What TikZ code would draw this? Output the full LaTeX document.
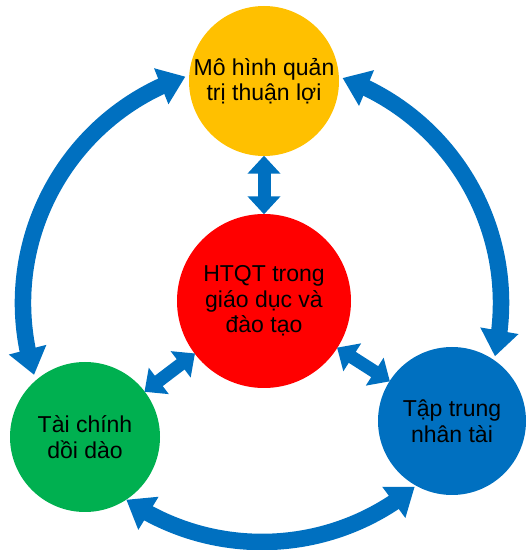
\documentclass[tikz,border=0pt]{standalone}
\usepackage{fontspec}
\setmainfont{Liberation Sans}
\usetikzlibrary{arrows.meta,bending}
\definecolor{cyel}{HTML}{FFC000}
\definecolor{cred}{HTML}{FF0000}
\definecolor{cgrn}{HTML}{00B050}
\definecolor{cblue}{HTML}{0070C0}
\begin{document}
\begin{tikzpicture}[x=1pt,y=1pt,
  circ/.style={circle,draw=none,inner sep=0pt,align=center,font=\fontsize{23}{25.5}\selectfont,text=black},
  bigarr/.style={line width=16.5pt,draw=cblue,{Triangle[width=37pt,length=26pt]}-{Triangle[width=37pt,length=26pt]}},
  smallarr/.style={line width=13pt,draw=cblue,shorten <=-0.5pt,shorten >=-0.5pt,{Triangle[width=32pt,length=18pt]}-{Triangle[width=32pt,length=18pt]}}]
\useasboundingbox (0,0) rectangle (529,550);
\node[circ,fill=cyel,minimum size=150pt] (yel) at (264,469) {Mô hình quản\\trị thuận lợi};
\node[circ,fill=cred,minimum size=174pt] (red) at (264,249) {HTQT trong\\giáo dục và\\đào tạo};
\node[circ,fill=cgrn,minimum size=150pt] (grn) at (85,113) {Tài chính\\dồi dào};
\node[circ,fill=cblue,minimum size=148pt] (blu) at (452,129) {Tập trung\\nhân tài};
\coordinate (O) at (262,247);
\draw[bigarr] ([shift={(108.7:239)}]O) arc[start angle=108.7,end angle=197.5,radius=239];
\draw[bigarr] ([shift={(70.3:239)}]O) arc[start angle=70.3,end angle=-12.9,radius=239];
\draw[bigarr] ([shift={(235.4:239)}]O) arc[start angle=235.4,end angle=309.7,radius=239];
\draw[smallarr] (yel) -- (red);
\draw[smallarr] (red) -- (grn);
\draw[smallarr] (red) -- (blu);
\end{tikzpicture}
\end{document}
